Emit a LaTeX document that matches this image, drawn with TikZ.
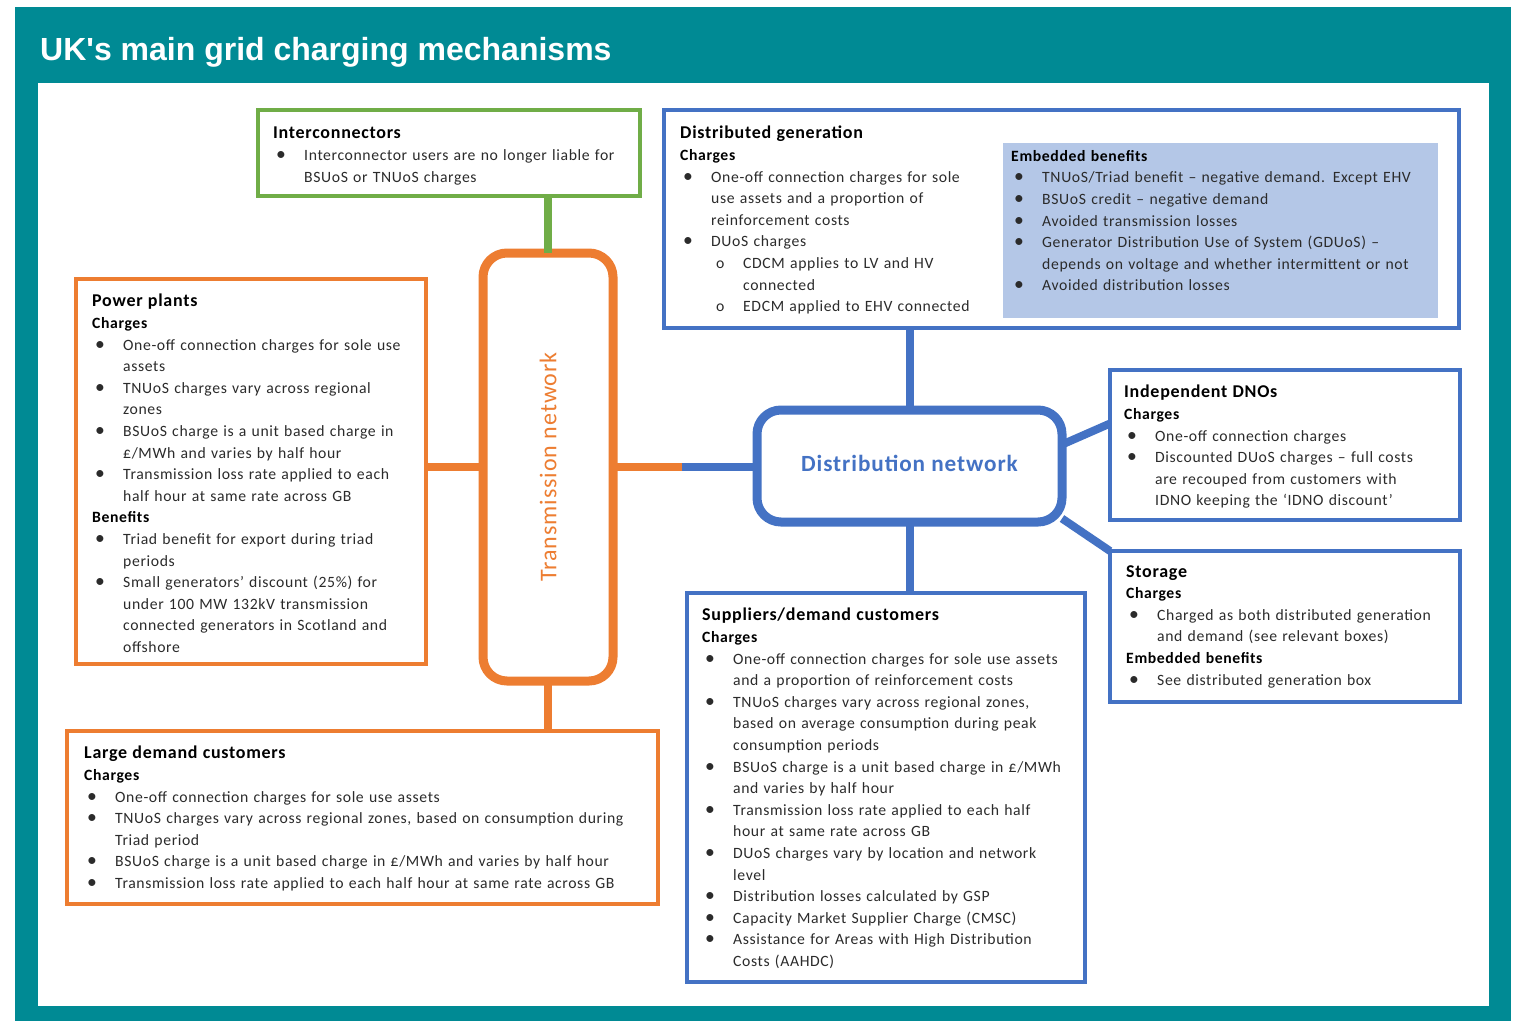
\documentclass[tikz,border=0pt]{standalone}
\usepackage{fontspec}
\setmainfont{Carlito}[LetterSpace=4]
\newfontfamily\titlefont{Liberation Sans}
\usepackage{tikz}
\definecolor{GridTeal}{HTML}{008A94}
\definecolor{NetOrange}{HTML}{ED7D31}
\definecolor{NetBlue}{HTML}{4472C4}
\definecolor{LinkGreen}{HTML}{70AD47}
\definecolor{EmbBlue}{HTML}{B4C7E7}
\definecolor{BodyText}{HTML}{2B2B2B}
\setlength{\parindent}{0pt}
\newcommand{\hd}[1]{{\fontsize{18}{21.6}\selectfont\bfseries\color{black}#1}}
\newcommand{\sh}[1]{{\bfseries\color{black}#1}}
\newcommand{\bulletmark}{\scalebox{1.25}{\textbullet}}
\newcommand{\bul}[1]{\par\hangindent=31pt\hangafter=1\noindent\hbox to 31pt{\hspace{3pt}\bulletmark\hfil}#1}
\newcommand{\subbul}[1]{\par\hangindent=63pt\hangafter=1\noindent\hbox to 63pt{\hspace{36pt}o\hfil}#1}

\begin{document}
\begin{tikzpicture}[x=1pt, y=-1pt,
    boxframe/.style={draw=#1, line width=4pt, anchor=north west, inner sep=0pt, outer sep=0pt},
    hub/.style={draw=#1, line width=9pt, rounded corners=24pt, anchor=north west, inner sep=0pt, outer sep=0pt},
    link/.style={draw=#1, line width=8pt},
    txt/.style={anchor=north west, inner sep=0pt, text width=#1, align=left,
      text=BodyText, font=\fontsize{15.7}{21.6}\selectfont}]
\useasboundingbox (0,0) rectangle (1513,1021);
\fill[GridTeal] (15,7) rectangle (1511,1021);
\fill[white] (38,83) rectangle (1489,1006);
\node[anchor=base west, inner sep=0pt, text=white, font=\titlefont\bfseries\fontsize{32}{32}\selectfont] (title) at (40,60) {UK's main grid charging mechanisms};

% networks
\node[hub=NetOrange, minimum width=130pt, minimum height=428pt] (trans) at (483,253) {};
\node[rotate=90, text=NetOrange, font=\fontsize{24}{26}\selectfont] (translabel) at (trans.center) {Transmission network};
\node[hub=NetBlue, minimum width=305pt, minimum height=112pt] (dist) at (757,410) {};
\node[text=NetBlue, font=\fontsize{23.2}{26}\selectfont\bfseries] (distlabel) at ([yshift=3pt]dist.center) {Distribution network};

% boxes
\node[boxframe=LinkGreen, minimum width=382pt, minimum height=86pt] (inter) at (258,110) {};
\node[boxframe=NetOrange, minimum width=350pt, minimum height=385pt] (plants) at (76,279) {};
\node[boxframe=NetOrange, minimum width=591pt, minimum height=173pt] (large) at (67,731) {};
\node[boxframe=NetBlue, minimum width=795pt, minimum height=218pt] (dg) at (664,110) {};
\node[fill=EmbBlue, anchor=north west, inner sep=0pt, outer sep=0pt, minimum width=435pt, minimum height=175pt] (emb) at (1003,143) {};
\node[boxframe=NetBlue, minimum width=350pt, minimum height=150pt] (idno) at (1110,370) {};
\node[boxframe=NetBlue, minimum width=350pt, minimum height=151pt] (stor) at (1110,551) {};
\node[boxframe=NetBlue, minimum width=398pt, minimum height=389pt] (sup) at (687,593) {};

% connectors
\coordinate (join) at (trans.east -| 682,0);
\draw[link=LinkGreen] (trans.north) -- (trans.north |- inter.south);
\draw[link=NetOrange] (trans.west) -- (trans.west -| plants.east);
\draw[link=NetOrange] (trans.south) -- (trans.south |- large.north);
\draw[link=NetOrange] (trans.east) -- (join);
\draw[link=NetBlue] (join) -- (join -| dist.west);
\draw[link=NetBlue] (dist.north) -- (dist.north |- dg.south);
\draw[link=NetBlue] (dist.south) -- (dist.south |- sup.north);
\draw[link=NetBlue] (dist.8) -- (idno.173);
\draw[link=NetBlue] (dist.-19) -- (stor.north west);

% texts
\node[txt=365pt] (intertext) at (273,127) {\hd{Interconnectors}
  \bul{Interconnector users are no longer liable for\newline BSUoS or TNUoS charges}\par};
\node[txt=335pt] (plantstext) at (92,294) {\hd{Power plants}\par
  \sh{Charges}
  \bul{One-off connection charges for sole use\newline assets}
  \bul{TNUoS charges vary across regional\newline zones}
  \bul{BSUoS charge is a unit based charge in\newline £/MWh and varies by half hour}
  \bul{Transmission loss rate applied to each\newline half hour at same rate across GB}
  \par\sh{Benefits}
  \bul{Triad benefit for export during triad\newline periods}
  \bul{Small generators’ discount (25\%) for\newline under 100 MW 132kV transmission\newline connected generators in Scotland and\newline offshore}\par};
\node[txt=580pt] (largetext) at (84,746) {\hd{Large demand customers}\par
  \sh{Charges}
  \bul{One-off connection charges for sole use assets}
  \bul{TNUoS charges vary across regional zones, based on consumption during\newline Triad period}
  \bul{BSUoS charge is a unit based charge in £/MWh and varies by half hour}
  \bul{Transmission loss rate applied to each half hour at same rate across GB}\par};
\node[txt=320pt] (dgtext) at (680,126) {\hd{Distributed generation}\par
  \sh{Charges}
  \bul{One-off connection charges for sole\newline use assets and a proportion of\newline reinforcement costs}
  \bul{DUoS charges}
  \subbul{CDCM applies to LV and HV\newline connected}
  \subbul{EDCM applied to EHV connected}\par};
\node[txt=440pt] (embtext) at (1011,150) {\sh{Embedded benefits}
  \bul{TNUoS/Triad benefit – negative demand. Except EHV}
  \bul{BSUoS credit – negative demand}
  \bul{Avoided transmission losses}
  \bul{Generator Distribution Use of System (GDUoS) –\newline depends on voltage and whether intermittent or not}
  \bul{Avoided distribution losses}\par};
\node[txt=335pt] (idnotext) at (1124,385) {\hd{Independent DNOs}\par
  \sh{Charges}
  \bul{One-off connection charges}
  \bul{Discounted DUoS charges – full costs\newline are recouped from customers with\newline IDNO keeping the ‘IDNO discount’}\par};
\node[txt=330pt] (stortext) at (1126,565) {\hd{Storage}\par
  \sh{Charges}
  \bul{Charged as both distributed generation\newline and demand (see relevant boxes)}
  \par\sh{Embedded benefits}
  \bul{See distributed generation box}\par};
\node[txt=390pt] (suptext) at (702,608) {\hd{Suppliers/demand customers}\par
  \sh{Charges}
  \bul{One-off connection charges for sole use assets\newline and a proportion of reinforcement costs}
  \bul{TNUoS charges vary across regional zones,\newline based on average consumption during peak\newline consumption periods}
  \bul{BSUoS charge is a unit based charge in £/MWh\newline and varies by half hour}
  \bul{Transmission loss rate applied to each half\newline hour at same rate across GB}
  \bul{DUoS charges vary by location and network\newline level}
  \bul{Distribution losses calculated by GSP}
  \bul{Capacity Market Supplier Charge (CMSC)}
  \bul{Assistance for Areas with High Distribution\newline Costs (AAHDC)}\par};
\end{tikzpicture}
\end{document}
